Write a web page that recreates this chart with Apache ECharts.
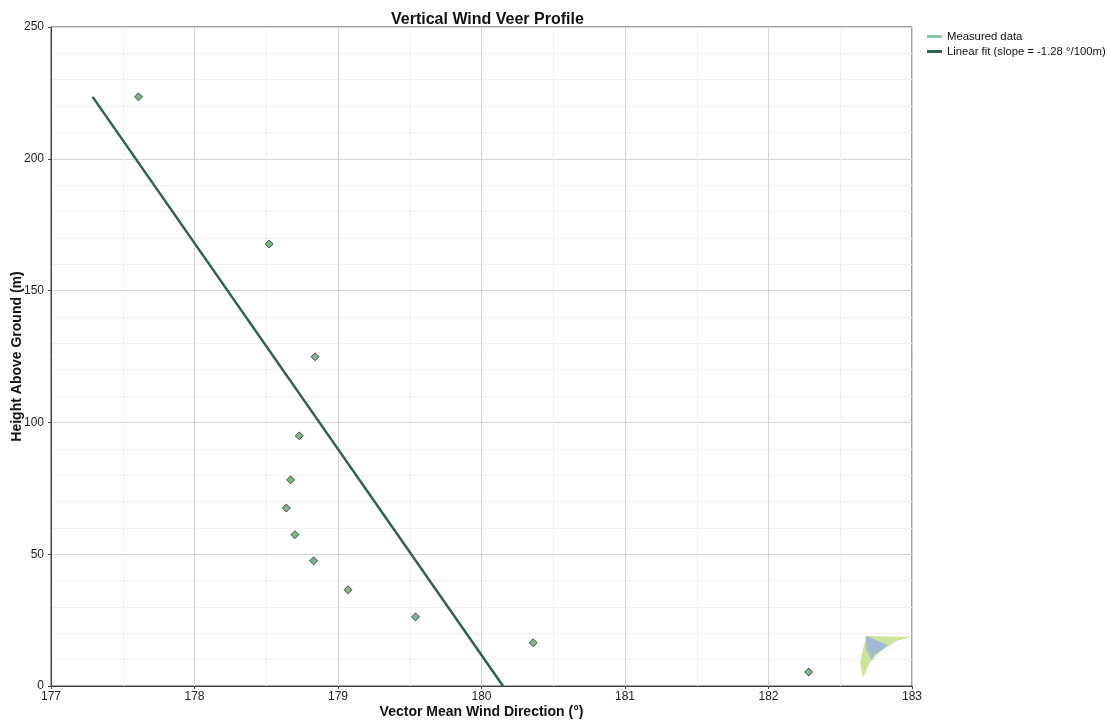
<!DOCTYPE html>
<html>
<head>
<meta charset="utf-8">
<script src="https://cdn.jsdelivr.net/npm/echarts@6/dist/echarts.min.js"></script>
<style>
html,body{margin:0;padding:0;background:#fff;}
#chart{width:1107px;height:721px;}
</style>
</head>
<body>
<div id="chart"></div>
<script>
const directions = [177.61, 178.52, 178.84, 178.73, 178.67, 178.64, 178.70, 178.83, 179.07, 179.54, 180.36, 182.28];
const heights    = [223.5, 167.7, 124.9, 94.9, 78.2, 67.5, 57.4, 47.5, 36.5, 26.2, 16.4, 5.3];
// Linear fit end points
const fitDirections = [177.29, 180.15];
const fitHeights    = [223.5, 0];
const xTicks = [177, 178, 179, 180, 181, 182, 183];
const yTicks = [0, 50, 100, 150, 200, 250];

const chart = echarts.init(document.getElementById('chart'), null, {renderer: 'canvas'});
const font = 'Liberation Sans, Arial, sans-serif';

const option = {
  backgroundColor: '#fff',
  animation: false,
  title: {
    text: 'Vertical Wind Veer Profile',
    left: 386, top: 7,
    textStyle: {fontFamily: font, fontSize: 16, fontWeight: 'bold', color: '#111'}
  },
  legend: {
    orient: 'vertical',
    left: 922, top: 26,
    itemWidth: 15, itemHeight: 3, itemGap: 4,
    textStyle: {fontFamily: font, fontSize: 11.3, color: '#111'},
    data: [
      {name: 'Measured data', icon: 'rect', itemStyle: {color: '#72b88a', borderWidth: 0}},
      {name: 'Linear fit (slope = -1.28 °/100m)', icon: 'rect', itemStyle: {color: '#2f6153', borderWidth: 0}}
    ]
  },
  grid: {
    left: 51, right: 195, top: 27, bottom: 35,
    outerBoundsMode: 'none',
    show: true, borderColor: '#444', borderWidth: 1, containLabel: false
  },
  xAxis: {
    type: 'value', min: xTicks[0], max: xTicks[xTicks.length - 1], interval: 1,
    name: 'Vector Mean Wind Direction (°)', nameLocation: 'middle', nameGap: 19,
    nameMoveOverlap: false,
    nameTextStyle: {fontFamily: font, fontSize: 14, fontWeight: 'bold', color: '#111'},
    axisLine: {show: true, lineStyle: {color: '#444', width: 1}},
    axisTick: {show: true, length: 3, lineStyle: {color: '#444'}},
    axisLabel: {fontFamily: font, fontSize: 12, color: '#222', margin: 5},
    splitLine: {show: true, lineStyle: {color: '#d4d4d4', width: 1}},
    minorTick: {show: false, splitNumber: 2},
    minorSplitLine: {show: true, lineStyle: {color: '#efefef', width: 1}}
  },
  yAxis: {
    type: 'value', min: yTicks[0], max: yTicks[yTicks.length - 1], interval: 50,
    name: 'Height Above Ground (m)', nameLocation: 'middle', nameGap: 27,
    nameMoveOverlap: false,
    nameTextStyle: {fontFamily: font, fontSize: 14, fontWeight: 'bold', color: '#111'},
    axisLine: {show: true, lineStyle: {color: '#444', width: 1}},
    axisTick: {show: true, length: 3, lineStyle: {color: '#444'}},
    axisLabel: {fontFamily: font, fontSize: 12, color: '#222', margin: 7},
    splitLine: {show: true, lineStyle: {color: '#d4d4d4', width: 1}},
    minorTick: {show: false, splitNumber: 5},
    minorSplitLine: {show: true, lineStyle: {color: '#efefef', width: 1}}
  },
  series: [
    {
      name: 'Measured data',
      type: 'scatter',
      symbol: 'diamond',
      symbolSize: 8,
      itemStyle: {color: '#5aa46e', borderColor: '#2a2a2a', borderWidth: 1},
      data: directions.map((d, i) => [d, heights[i]]),
      z: 3
    },
    {
      name: 'Linear fit (slope = -1.28 °/100m)',
      type: 'line',
      showSymbol: false,
      symbol: 'none',
      lineStyle: {color: '#2d6254', width: 2.5},
      data: fitDirections.map((d, i) => [d, fitHeights[i]]),
      z: 2
    }
  ],
  graphic: [
    {type: 'polygon', z: 1, shape: {points: [[866,636],[912,637],[896,641],[886,648],[880,652],[866,636]]}, style: {fill: '#cde39a'}},
    {type: 'polygon', z: 1, shape: {points: [[866,636],[880,652],[870,662],[863,678],[860,662],[866,636]]}, style: {fill: '#cde39a'}},
    {type: 'polygon', z: 1, shape: {points: [[866,636],[888,645],[880,651],[872,656],[866,636]]}, style: {fill: '#a3b9d3'}},
    {type: 'polygon', z: 1, shape: {points: [[866,636],[876,650],[872,660],[866,650],[866,636]]}, style: {fill: '#a3b9d3', opacity: 0.9}}
  ]
};
chart.setOption(option);
</script>
</body>
</html>
